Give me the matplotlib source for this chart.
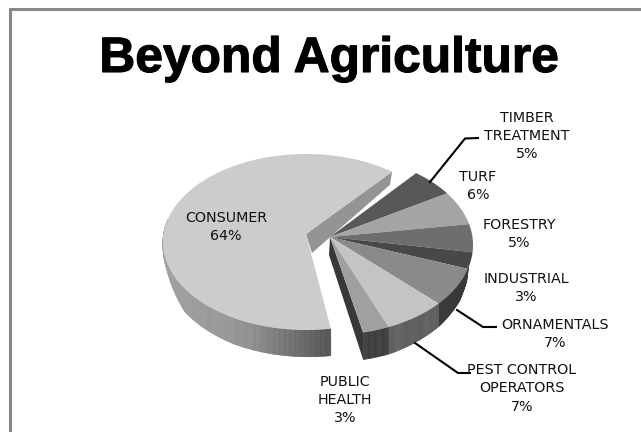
import numpy as np
import matplotlib
matplotlib.use("Agg")
import matplotlib.pyplot as plt
import matplotlib.patheffects as pe

categories = ["TIMBER\nTREATMENT", "TURF", "FORESTRY", "INDUSTRIAL", "ORNAMENTALS",
              "PEST CONTROL\nOPERATORS", "PUBLIC\nHEALTH", "CONSUMER"]
values = [5, 6, 5, 3, 7, 7, 3, 64]
top_colors = ["#585858", "#a4a4a4", "#6e6e6e", "#484848", "#8a8a8a", "#c4c4c4", "#a0a0a0", "#cccccc"]
wall_colors = ["#303030", "#505050", "#404040", "#303030", "#383838", "#5e5e5e", "#3c3c3c", "#808080"]
title = "Beyond Agriculture"

W, H = 641, 432
fig = plt.figure(figsize=(W / 100, H / 100), dpi=100)
ax = fig.add_axes([0, 0, 1, 1])
ax.set_xlim(0, W)
ax.set_ylim(H, 0)
ax.axis("off")

ax.plot([641, 10, 10], [9, 9, 432], color="#888888", lw=2.2, solid_joinstyle="miter")
ax.text(329.5, 72, title, ha="center", va="baseline", fontsize=35.8, fontweight="bold",
        color="black", family="Liberation Sans",
        path_effects=[pe.withStroke(linewidth=0.8, foreground="black")])

MAIN = (330, 245, 143, 90)
APEX = (330, 237)
CONS = (306, 242, 143, 88)
CONS_APEX = (306, 234)
START = 53.0
CONS_TRIM = 3.4

angles = START - np.cumsum([0] + values) * 3.6


def rim(t, geom):
    cx, cy, rx, ry = geom
    t = np.radians(t)
    return cx + rx * np.cos(t), cy - ry * np.sin(t)


def wall(t0, t1, geom, depth_fn, shade_fn):
    ts = np.linspace(t0, t1, int(abs(t1 - t0) * 2) + 2)
    for a, b in zip(ts[:-1], ts[1:]):
        xa, ya = rim(a, geom)
        xb, yb = rim(b, geom)
        da, db = depth_fn(a), depth_fn(b)
        c = shade_fn((a + b) / 2)
        ax.fill([xa, xb, xb, xa], [ya, yb, yb + db, ya + da], color=c, lw=0.4, ec=c)


def cons_depth(t):
    return np.interp(t, [-195, -166, -148, -120, -80], [0, 8, 23, 26, 27])


def cons_shade(t):
    x = rim(t, CONS)[0]
    g = np.interp(x, [165, 250, 290, 332], [0xa2, 0x90, 0x70, 0x50]) / 255
    return (g, g, g)


def main_depth(t):
    return np.interp(-t, [14.5, 17, 25, 40, 65, 80], [0, 10, 18, 23, 27, 27])


# consumer slice (exploded to the left)
cons_end = angles[7] - CONS_TRIM
wall(cons_end, -195, CONS, cons_depth, cons_shade)
x1, y1 = rim(angles[0], CONS)
ax.fill([CONS_APEX[0], x1, x1 - 2, CONS_APEX[0] + 6], [CONS_APEX[1], y1, y1 + 13, CONS_APEX[1] + 19],
        color="#949494", lw=0)
ts = np.linspace(cons_end, angles[8], 240)
xs, ys = rim(ts, CONS)
ax.fill(np.r_[CONS_APEX[0], xs], np.r_[CONS_APEX[1], ys], color=top_colors[7], lw=0)

# right-hand pie: inner dark wall
xe, ye = rim(angles[7], MAIN)
ax.fill([APEX[0], xe, xe, APEX[0] - 1], [APEX[1], ye, ye + main_depth(angles[7]), APEX[1] + 18],
        color="#383838", lw=0)

# right-hand pie: outer walls
for i in range(7):
    t0, t1 = angles[i], angles[i + 1]
    if t1 < -14.5:
        wall(min(t0, -14.5), t1, MAIN, main_depth, lambda t, c=wall_colors[i]: c)

# right-hand pie: top faces
for i in range(7):
    ts = np.linspace(angles[i], angles[i + 1], 40)
    xs, ys = rim(ts, MAIN)
    ax.fill(np.r_[APEX[0], xs], np.r_[APEX[1], ys], color=top_colors[i], lw=0)

# leader lines
leaders = [
    ([430, 465, 478], [182, 138.5, 138]),
    ([457, 483, 496], [310, 327, 327]),
    ([415, 458, 470], [343, 373, 373]),
]
for lx, ly in leaders:
    ax.plot(lx, ly, color="black", lw=1.5, solid_joinstyle="miter")

# labels
label_pos = [(527, 136), (478, 186), (519, 234), (526, 288), (555, 334), (522, 388.5), (345, 400), (226, 227)]
for name, v, (x, y) in zip(categories, values, label_pos):
    ax.text(x, y, f"{name}\n{v}%", ha="center", va="center", fontsize=10.3, color="#111111",
            family="DejaVu Sans", linespacing=1.4)

fig.savefig("out.png", dpi=100)
